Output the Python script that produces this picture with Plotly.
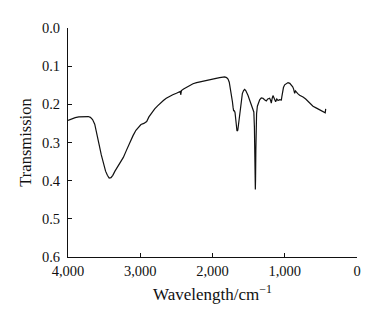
import plotly.graph_objects as go

wavenumber = [4000, 3950, 3900, 3850, 3800, 3765, 3720, 3690, 3660, 3630, 3600, 3570, 3540, 3510, 3480, 3455, 3430, 3405, 3380, 3350, 3310, 3270, 3234, 3190, 3150, 3100, 3060, 3027, 2990, 2950, 2911, 2880, 2842, 2800, 2760, 2726, 2680, 2640, 2600, 2550, 2500, 2455, 2445, 2440, 2430, 2400, 2360, 2320, 2270, 2220, 2178, 2130, 2085, 2040, 1993, 1950, 1901, 1860, 1832, 1805, 1785, 1768, 1753, 1738, 1725, 1715, 1707, 1698, 1688, 1675, 1661, 1650, 1642, 1628, 1615, 1600, 1587, 1570, 1555, 1540, 1522, 1508, 1495, 1478, 1462, 1450, 1439, 1428, 1420, 1414, 1410, 1407, 1404, 1400, 1396, 1390, 1379, 1365, 1347, 1325, 1301, 1280, 1255, 1235, 1209, 1195, 1186, 1175, 1163, 1145, 1126, 1110, 1093, 1070, 1047, 1040, 1033, 1018, 1001, 980, 955, 930, 909, 890, 877, 868, 863, 852, 840, 820, 794, 770, 747, 710, 678, 640, 609, 560, 517, 480, 447, 440, 433]
transmission = [0.242, 0.238, 0.235, 0.233, 0.232, 0.231, 0.232, 0.234, 0.240, 0.252, 0.275, 0.305, 0.332, 0.357, 0.375, 0.386, 0.393, 0.392, 0.386, 0.375, 0.362, 0.350, 0.339, 0.320, 0.302, 0.282, 0.268, 0.260, 0.253, 0.250, 0.245, 0.233, 0.222, 0.212, 0.204, 0.197, 0.190, 0.184, 0.179, 0.175, 0.171, 0.167, 0.166, 0.175, 0.164, 0.160, 0.155, 0.150, 0.146, 0.143, 0.141, 0.139, 0.138, 0.136, 0.134, 0.132, 0.130, 0.129, 0.128, 0.130, 0.134, 0.142, 0.157, 0.175, 0.192, 0.208, 0.218, 0.216, 0.222, 0.245, 0.270, 0.268, 0.255, 0.230, 0.205, 0.185, 0.172, 0.164, 0.161, 0.164, 0.170, 0.177, 0.184, 0.192, 0.203, 0.208, 0.210, 0.220, 0.260, 0.330, 0.395, 0.423, 0.395, 0.320, 0.260, 0.225, 0.205, 0.195, 0.188, 0.183, 0.184, 0.188, 0.191, 0.186, 0.184, 0.190, 0.197, 0.185, 0.177, 0.185, 0.193, 0.186, 0.190, 0.188, 0.189, 0.180, 0.166, 0.156, 0.149, 0.145, 0.143, 0.145, 0.149, 0.154, 0.160, 0.166, 0.171, 0.165, 0.168, 0.172, 0.176, 0.178, 0.181, 0.186, 0.192, 0.198, 0.205, 0.210, 0.214, 0.218, 0.221, 0.222, 0.212]

x_ticks = [4000, 3000, 2000, 1000, 0]
x_tick_labels = ["4,000", "3,000", "2,000", "1,000", "0"]
y_ticks = [0.0, 0.1, 0.2, 0.3, 0.4, 0.5, 0.6]
y_tick_labels = ["0.0", "0.1", "0.2", "0.3", "0.4", "0.5", "0.6"]

fig = go.Figure()
fig.add_trace(go.Scatter(x=wavenumber, y=transmission, mode="lines",
                         line=dict(color="#111111", width=1.2), showlegend=False))

font = dict(family="Liberation Serif, Times New Roman, serif", color="#111111")
# the page body has an 8px default margin, so the figure is offset by 8px
fig.update_layout(
    width=373, height=308,
    margin=dict(l=60, r=24, t=18, b=59),
    paper_bgcolor="white", plot_bgcolor="white",
    font=dict(**font, size=14),
)
fig.update_xaxes(
    range=[4000, 0], tickvals=x_ticks, ticktext=x_tick_labels,
    ticks="inside", ticklen=4, tickcolor="#111111", tickwidth=1,
    showline=True, linecolor="#111111", linewidth=1, showgrid=False, zeroline=False,
    tickfont=dict(**font, size=14.5), ticklabelstandoff=1,
    title=dict(text="Wavelength/cm<sup>−1</sup>", font=dict(**font, size=17), standoff=9),
)
fig.update_yaxes(
    range=[0.6, 0.0], tickvals=y_ticks, ticktext=y_tick_labels,
    ticks="inside", ticklen=4, tickcolor="#111111", tickwidth=1,
    showline=True, linecolor="#111111", linewidth=1, showgrid=False, zeroline=False,
    tickfont=dict(**font, size=14.5), ticklabelstandoff=4,
    title=dict(text="Transmission", font=dict(**font, size=16.5), standoff=6),
)
fig.write_html("out.html")
